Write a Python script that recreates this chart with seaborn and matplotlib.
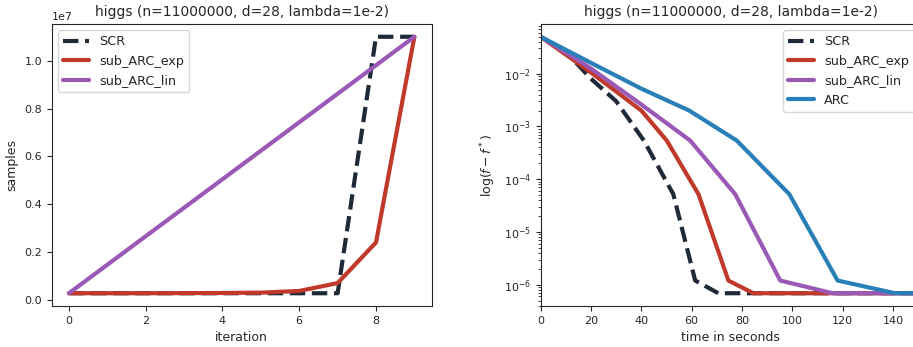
import numpy as np
import pandas as pd
import matplotlib
matplotlib.use("Agg")
import matplotlib.pyplot as plt
import seaborn as sns

# ---- data: left panel (samples per iteration) ----
iterations = [0, 1, 2, 3, 4, 5, 6, 7, 8, 9]
scr_samples = [275000, 275000, 275000, 275000, 275000, 275000, 275000, 275000, 11000000, 11000000]
exp_samples = [275000, 275000, 275000, 280000, 285000, 300000, 370000, 700000, 2400000, 11000000]
lin_samples = [275000, 1466667, 2658333, 3850000, 5041667, 6233333, 7425000, 8616667, 9808333, 11000000]

# ---- data: right panel (suboptimality vs time) ----
scr_time = [0, 10, 20, 30, 41, 52.7, 61.4, 70.6, 151]
scr_err = [0.05, 0.026, 0.008, 0.003, 5.4e-4, 5.2e-5, 1.2e-6, 6.9e-7, 6.9e-7]
exp_time = [0, 20, 40, 50.1, 62.7, 74.6, 84.5, 151]
exp_err = [0.05, 0.0105, 2.0e-3, 5.4e-4, 5.2e-5, 1.2e-6, 6.9e-7, 6.9e-7]
lin_time = [0, 20, 40, 59.4, 77.3, 95.2, 116, 151]
lin_err = [0.05, 0.0125, 2.6e-3, 5.4e-4, 5.2e-5, 1.2e-6, 6.9e-7, 6.9e-7]
arc_time = [0, 20, 40, 59, 77.9, 98.8, 118, 140.8, 151]
arc_err = [0.05, 0.016, 5.2e-3, 2.0e-3, 5.4e-4, 5.2e-5, 1.2e-6, 6.9e-7, 6.9e-7]

title = "higgs (n=11000000, d=28, lambda=1e-2)"
c_scr, c_exp, c_lin, c_arc = "#1f2a38", "#c0392b", "#9b59b6", "#2980b9"

sns.set_style("ticks")
plt.rcParams['font.family'] = ['DejaVu Sans']

fig = plt.figure(figsize=(9.13, 3.47), dpi=100)
ax1 = fig.add_axes([0.0566, 0.118, 0.4162, 0.813])
ax2 = fig.add_axes([0.5922, 0.118, 0.4162, 0.813])

lw = 3
title_fs, label_fs, legend_fs, tick_fs = 10, 9, 9.2, 8
sns.lineplot(x=iterations, y=scr_samples, ax=ax1, color=c_scr, lw=lw, linestyle="--", label="SCR", sort=False)
sns.lineplot(x=iterations, y=exp_samples, ax=ax1, color=c_exp, lw=lw, label="sub_ARC_exp", sort=False)
sns.lineplot(x=iterations, y=lin_samples, ax=ax1, color=c_lin, lw=lw, label="sub_ARC_lin", sort=False)
ax1.set_title(title, fontsize=title_fs)
ax1.set_xlabel("iteration", fontsize=label_fs)
ax1.set_ylabel("samples", fontsize=label_fs)
ax1.tick_params(labelsize=tick_fs)
ax1.yaxis.get_offset_text().set_fontsize(tick_fs)
ax1.legend(loc="upper left", fontsize=legend_fs)

sns.lineplot(x=scr_time, y=scr_err, ax=ax2, color=c_scr, lw=lw, linestyle="--", label="SCR", sort=False)
sns.lineplot(x=exp_time, y=exp_err, ax=ax2, color=c_exp, lw=lw, label="sub_ARC_exp", sort=False)
sns.lineplot(x=lin_time, y=lin_err, ax=ax2, color=c_lin, lw=lw, label="sub_ARC_lin", sort=False)
sns.lineplot(x=arc_time, y=arc_err, ax=ax2, color=c_arc, lw=lw, label="ARC", sort=False)
ax2.set_yscale("log")
ax2.set_xlim(0, 151)
ax2.set_title(title, fontsize=title_fs)
ax2.set_xlabel("time in seconds", fontsize=label_fs)
ax2.set_ylabel(r"log$(f-f^*)$", fontsize=label_fs)
ax2.tick_params(labelsize=tick_fs)
ax2.legend(loc="upper right", fontsize=legend_fs)

fig.savefig("out.png", dpi=100)
